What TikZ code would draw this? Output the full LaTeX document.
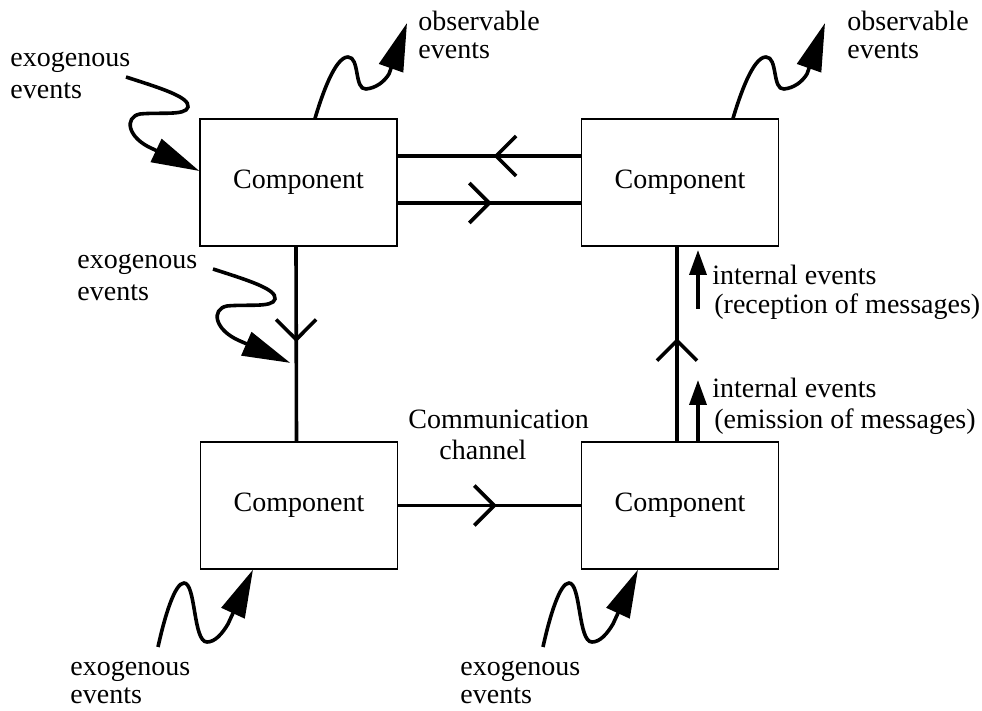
\documentclass[tikz,border=0pt]{standalone}
\usepackage{fontspec}
\setmainfont{Liberation Serif}
\usetikzlibrary{arrows.meta,decorations.markings}
\tikzset{
  comp/.style={draw, line width=0.6pt, minimum width=98.5pt, minimum height=63.5pt,
    inner sep=0pt, font=\fontsize{14pt}{16.5pt}\selectfont},
  lbl/.style={anchor=base west, inner sep=0pt, font=\fontsize{14pt}{16.5pt}\selectfont},
  chan/.style={line width=1.8pt},
  barb/.style={postaction={decorate}, decoration={markings,
    mark=at position #1 with {\arrow{Straight Barb[length=10pt,width=20pt]}}}},
  wiggle/.style={line width=1.8pt, -{Triangle[length=24pt,width=12.5pt]}},
  evt/.style={line width=1.8pt, -{Triangle[length=12.5pt,width=8.5pt]}},
}
\begin{document}
\begin{tikzpicture}[x=0.5pt,y=-0.5pt]
\useasboundingbox (0,0) rectangle (982,711);

% components
\node[comp] (tl) at (298.5,182.5) {Component};
\node[comp] (tr) at (680,182.5) {Component};
\node[comp] (bl) at (299,505.5) {Component};
\node[comp] (br) at (680,505.5) {Component};

% communication channels
\draw[chan, barb=0.476] ([yshift=13.25pt]tr.west) -- ([yshift=13.25pt]tl.east);
\draw[chan, barb=0.514] ([yshift=-10.25pt]tl.east) -- ([yshift=-10.25pt]tr.west);
\draw[chan, barb=0.49] ([xshift=-1.25pt]tl.south) -- coordinate[pos=0.597] (hit) ([xshift=-1.25pt]bl.north);
\draw[chan, barb=0.54] (bl.east) -- (br.west);
\draw[chan, barb=0.53] ([xshift=-1.5pt]br.north) -- ([xshift=-1.5pt]tr.south);

% internal events
\coordinate (recvBase) at (698,309);
\coordinate (recvTip) at (698,250);
\coordinate (emitTip) at (698,380);
\draw[evt] (recvBase) -- (recvTip);
\draw[evt] ([xshift=9pt]br.north) -- (emitTip);

% exogenous events entering the top-left component
\coordinate (exoA) at (126,77);
\draw[wiggle] (exoA) .. controls (160,88) and (190,97) .. (188,107)
  .. controls (186,116) and (160,112) .. (140,114)
  .. controls (124,117) and (127,138) .. (153,149) -- ([yshift=5.75pt]tl.west);

% exogenous events entering the left channel
\begin{scope}[shift={(87,192)}]
\coordinate (exoB) at (126,77);
\draw[wiggle] (exoB) .. controls (160,88) and (190,97) .. (188,107)
  .. controls (186,116) and (160,112) .. (140,114)
  .. controls (124,117) and (127,138) .. (153,149) -- ([xshift=-3pt]hit);
\end{scope}

% observable events
\coordinate (obsA) at (407,23);
\draw[wiggle] ([xshift=8.25pt]tl.north) .. controls (322,95) and (335,57) .. (348,57)
  .. controls (360,57) and (354,90) .. (366,89)
  .. controls (376,88) and (384,82) .. (389,74) -- (obsA);
\begin{scope}[shift={(418,0)}]
\coordinate (obsB) at (407,23);
\draw[wiggle] ([xshift=26.5pt]tr.north) .. controls (322,95) and (335,57) .. (348,57)
  .. controls (360,57) and (354,90) .. (366,89)
  .. controls (376,88) and (384,82) .. (389,74) -- (obsB);
\end{scope}

% exogenous events entering the bottom components
\coordinate (exoC) at (158,647);
\draw[wiggle] (exoC) .. controls (165,615) and (175,583) .. (184,583)
  .. controls (196,583) and (193,642) .. (207,642)
  .. controls (215,642) and (222,634) .. (228,624) -- ([xshift=-23pt]bl.south);
\begin{scope}[shift={(385,0)}]
\coordinate (exoD) at (158,647);
\draw[wiggle] (exoD) .. controls (165,615) and (175,583) .. (184,583)
  .. controls (196,583) and (193,642) .. (207,642)
  .. controls (215,642) and (222,634) .. (228,624) -- ([xshift=-21pt]br.south);
\end{scope}

% labels
\node[lbl] (tA1) at (10,67) {exogenous};
\node[lbl] (tA2) at (10,99) {events};
\node[lbl] (tB1) at (77,269) {exogenous};
\node[lbl] (tB2) at (77,301) {events};
\node[lbl] (tC1) at (70,676) {exogenous};
\node[lbl] (tC2) at (70,704) {events};
\node[lbl] (tD1) at (460,676) {exogenous};
\node[lbl] (tD2) at (460,704) {events};
\node[lbl] (tO1) at (418,31) {observable};
\node[lbl] (tO2) at (418,59) {events};
\node[lbl] (tP1) at (847,31) {observable};
\node[lbl] (tP2) at (847,59) {events};
\node[lbl] (tR1) at (712,285) {internal events};
\node[lbl] (tR2) at (714,314) {(reception of messages)};
\node[lbl] (tE1) at (712,398) {internal events};
\node[lbl] (tE2) at (714,429) {(emission of messages)};
\node[lbl] (tK1) at (408,429) {Communication};
\node[lbl] (tK2) at (439,460) {channel};
\end{tikzpicture}
\end{document}
